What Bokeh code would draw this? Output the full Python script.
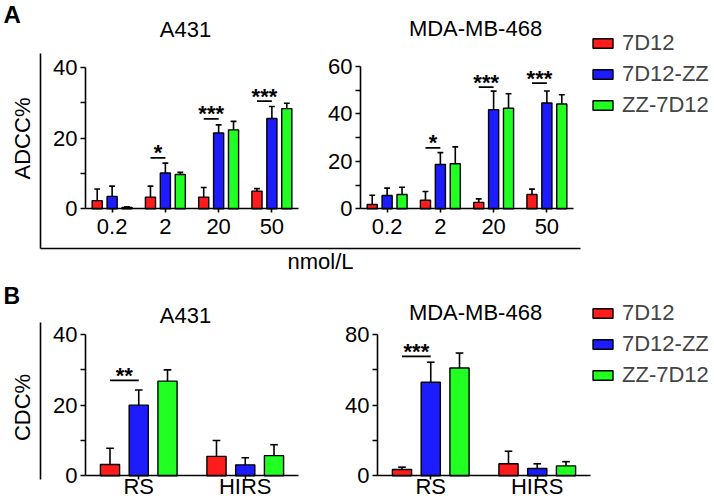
import numpy as np
from bokeh.plotting import figure
from bokeh.models import Range1d, LinearAxis, FixedTicker, Label, Legend, LegendItem
from bokeh.core.properties import value
from bokeh.embed import file_html
from bokeh.resources import INLINE

# ---------------- data ----------------
cells = ["A431", "MDA-MB-468"]
series = ["7D12", "7D12-ZZ", "ZZ-7D12"]
colors = ["#ff1c1c", "#1c1cff", "#22ff22"]

conc = ["0.2", "2", "20", "50"]
adcc_a431_mean = [[2.3, 3.3, 3.3, 5.0], [3.5, 10.1, 21.4, 25.5], [0.4, 9.7, 22.3, 28.3]]
adcc_a431_err = [[3.3, 3.1, 2.7, 0.7], [2.9, 2.8, 2.3, 3.4], [0.2, 0.6, 2.4, 1.5]]
adcc_mda_mean = [[1.8, 3.6, 2.7, 6.0], [5.6, 18.7, 41.8, 44.6], [6.0, 19.0, 42.4, 44.2]]
adcc_mda_err = [[3.9, 3.7, 1.5, 2.3], [3.1, 5.0, 7.8, 5.1], [3.1, 7.1, 6.1, 3.9]]

sites = ["RS", "HIRS"]
cdc_a431_mean = [[3.2, 5.5], [20.0, 3.1], [26.8, 5.7]]
cdc_a431_err = [[4.6, 4.5], [4.3, 2.0], [3.2, 3.1]]
cdc_mda_mean = [[3.6, 6.8], [53.0, 4.1], [61.0, 5.6]]
cdc_mda_err = [[1.3, 7.1], [11.3, 2.7], [8.5, 2.4]]

adcc_a431_yticks, adcc_a431_yminor = [0, 20, 40], [10, 30]
adcc_mda_yticks, adcc_mda_yminor = [0, 20, 40, 60], [10, 30, 50]
cdc_a431_yticks, cdc_a431_yminor = [0, 20, 40], [10, 30]
cdc_mda_yticks, cdc_mda_yminor = [0, 40, 80], [20, 60]

adcc_a431_sig = (["2", "20", "50"], ["*", "***", "***"], [14.4, 25.4, 30.4])
adcc_mda_sig = (["2", "20", "50"], ["*", "***", "***"], [25.7, 51.3, 53.0])
cdc_a431_sig = (["RS"], ["**"], [27.0])
cdc_mda_sig = (["RS"], ["***"], [67.6])

# ---------------- layout ----------------
W, H = 714, 503
FONT = "Liberation Sans"

p = figure(width=W, height=H, output_backend="svg", toolbar_location=None,
           x_axis_type=None, y_axis_type=None,
           x_range=Range1d(0, W), y_range=Range1d(H, 0), min_border=0)
p.min_border_left = p.min_border_right = p.min_border_top = p.min_border_bottom = 0
p.outline_line_color = None
p.grid.visible = False
p.background_fill_color = "white"
p.border_fill_color = "white"

# pixel boxes of each panel: (left, right, zero_y, top_y)
boxes = {
    "a1": (85, 298, 208.3, 66.7),
    "a2": (360, 573, 208.3, 66.0),
    "b1": (85, 298, 475.3, 334.0),
    "b2": (377, 590, 475.3, 334.0),
}

xr, yr = {}, {}
def add_ranges(name, ncat, ymax):
    l, r, yb, yt = boxes[name]
    xlo, xhi = 0.5, ncat + 0.5
    sx = (r - l) / (xhi - xlo)
    xr[name] = Range1d(xlo - l / sx, xhi + (W - r) / sx)
    sy = (yb - yt) / ymax
    yr[name] = Range1d(0 - (H - yb) / sy, ymax + yt / sy)

add_ranges("a1", len(conc), adcc_a431_yticks[-1])
add_ranges("a2", len(conc), adcc_mda_yticks[-1])
add_ranges("b1", len(sites), cdc_a431_yticks[-1])
add_ranges("b2", len(sites), cdc_mda_yticks[-1])
p.extra_x_ranges = xr
p.extra_y_ranges = yr

LW = 1.6

def style_axis(ax):
    ax.axis_line_width = LW
    ax.axis_line_color = "black"
    ax.major_tick_line_width = LW
    ax.minor_tick_line_width = LW
    ax.major_tick_line_color = "black"
    ax.minor_tick_line_color = "black"
    ax.major_tick_in = 0
    ax.minor_tick_in = 0
    ax.major_label_text_font = FONT
    ax.major_label_text_font_size = "22px"
    ax.major_label_text_color = "black"

def draw_panel(name, cats, means, errs, yticks, yminor, sig, bar_w, pitch, cap_hw, xstand):
    xc = np.arange(1, len(cats) + 1)
    offs = [-pitch, 0.0, pitch]
    rends = []
    for k in range(3):
        xs = xc + offs[k]
        m = np.array(means[k], dtype=float)
        tops = m + np.array(errs[k], dtype=float)
        r = p.vbar(x=xs, top=m, bottom=0, width=bar_w, fill_color=colors[k],
                   line_color="black", line_width=1.4,
                   x_range_name=name, y_range_name=name)
        rends.append(r)
        p.segment(x0=xs, y0=m, x1=xs, y1=tops, line_color="black", line_width=1.6,
                  x_range_name=name, y_range_name=name)
        p.segment(x0=xs - cap_hw, y0=tops, x1=xs + cap_hw, y1=tops, line_color="black",
                  line_width=1.6, x_range_name=name, y_range_name=name)
    yax = LinearAxis(x_range_name=name, y_range_name=name, fixed_location=0.5,
                     bounds=(0, yticks[-1]),
                     ticker=FixedTicker(ticks=yticks, minor_ticks=yminor))
    style_axis(yax)
    yax.major_tick_out = 5
    yax.minor_tick_out = 5
    yax.major_label_standoff = 3
    p.add_layout(yax, "left")
    xax = LinearAxis(x_range_name=name, y_range_name=name, fixed_location=0,
                     bounds=(0.5, len(cats) + 0.5),
                     ticker=FixedTicker(ticks=[int(i) for i in xc], minor_ticks=[]),
                     major_label_overrides={int(i): c for i, c in zip(xc, cats)})
    style_axis(xax)
    xax.major_tick_out = 4
    xax.minor_tick_out = 0
    xax.major_label_standoff = xstand
    p.add_layout(xax, "below")
    groups, labels, heights = sig
    gi = np.array([cats.index(g) + 1 for g in groups], dtype=float)
    p.segment(x0=gi + offs[0], x1=gi + offs[1], y0=heights, y1=heights,
              line_color="black", line_width=1.8, x_range_name=name, y_range_name=name)
    p.text(x=gi + (offs[0] + offs[1]) / 2, y=heights, text=labels,
           text_align="center", text_baseline="middle", y_offset=-5,
           text_font=value(FONT), text_font_style="bold", text_font_size=value("22px"),
           text_color="black", x_range_name=name, y_range_name=name)
    return rends

ra = draw_panel("a1", conc, adcc_a431_mean, adcc_a431_err, adcc_a431_yticks, adcc_a431_yminor,
                adcc_a431_sig, 0.19, 0.28, 0.055, 6)
draw_panel("a2", conc, adcc_mda_mean, adcc_mda_err, adcc_mda_yticks, adcc_mda_yminor,
           adcc_mda_sig, 0.19, 0.28, 0.055, 6)
rb = draw_panel("b1", sites, cdc_a431_mean, cdc_a431_err, cdc_a431_yticks, cdc_a431_yminor,
                cdc_a431_sig, 0.18, 0.27, 0.036, -6)
draw_panel("b2", sites, cdc_mda_mean, cdc_mda_err, cdc_mda_yticks, cdc_mda_yminor,
           cdc_mda_sig, 0.18, 0.27, 0.036, -6)

# outer brackets (layout lines)
p.segment(x0=[40, 40, 40], y0=[53, 248, 322], x1=[40, 580, 40], y1=[248, 248, 479],
          line_color="black", line_width=LW)

def lab(x, y, text, size="22px", style="normal", angle=0.0, align="center"):
    p.add_layout(Label(x=x, y=y, text=text, text_font=FONT, text_font_size=size,
                       text_font_style=style, text_align=align, text_baseline="middle",
                       angle=angle, text_color="black"))

lab(3, 13.5, "A", size="24px", style="bold", align="left")
lab(3, 295.5, "B", size="23px", style="bold", align="left")
lab(185, 28.5, cells[0])
lab(475, 27.5, cells[1])
lab(185, 315, cells[0])
lab(475, 312, cells[1])
lab(22, 138, "ADCC%", angle=np.pi / 2)
lab(22, 407, "CDC%", angle=np.pi / 2)
lab(320, 261, "nmol/L")

def add_legend(rends, bottom):
    leg = Legend(items=[LegendItem(label=s, renderers=[r]) for s, r in zip(series, rends)],
                 location=(590, H - bottom), padding=0, margin=0, spacing=5,
                 glyph_width=25, glyph_height=12, label_height=24, label_standoff=7,
                 label_text_font=FONT, label_text_font_size="22px",
                 border_line_color=None, background_fill_alpha=0)
    p.add_layout(leg, "center")

add_legend(ra, 117.5)
add_legend(rb, 387.5)

open("out.html", "w").write(file_html(p, INLINE))
